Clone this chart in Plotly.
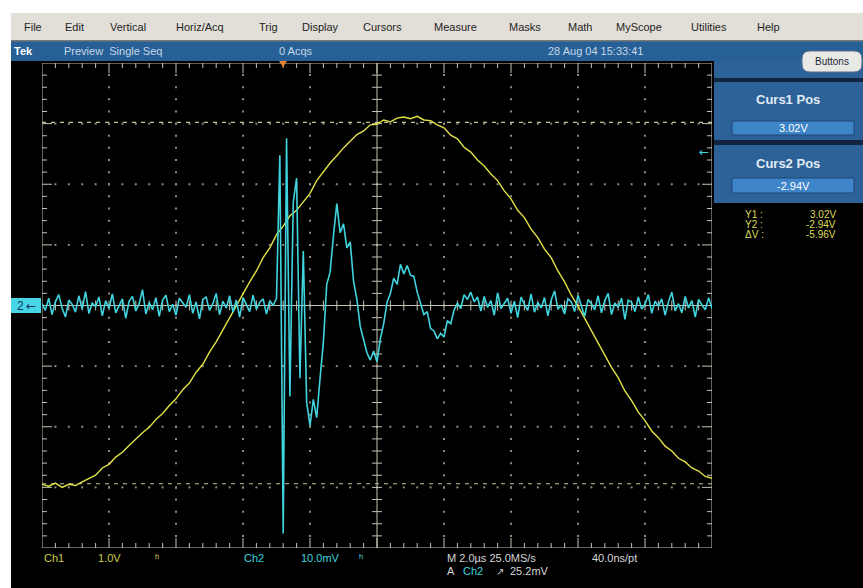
import plotly.graph_objects as go

# ---------------- data ----------------
# Ch1 (yellow), volts, sampled every 0.2 us over 20 us (10 div x 2 us)
ch1_dt = 0.2
ch1_v = [
    -2.95, -2.98, -2.93, -3.00, -2.95, -2.97, -2.91, -2.85, -2.80, -2.68,
    -2.62, -2.50, -2.42, -2.31, -2.20, -2.10, -2.01, -1.88, -1.78, -1.65,
    -1.54, -1.39, -1.28, -1.10, -0.97, -0.77, -0.60, -0.40, -0.22, -0.01,
    0.19, 0.39, 0.57, 0.79, 0.95, 1.17, 1.31, 1.48, 1.57, 1.71,
    1.85, 2.06, 2.20, 2.35, 2.47, 2.60, 2.71, 2.82, 2.88, 2.98,
    2.99, 3.06, 3.03, 3.09, 3.11, 3.08, 3.12, 3.06, 3.05, 2.98,
    2.93, 2.81, 2.75, 2.61, 2.53, 2.40, 2.30, 2.17, 2.06, 1.89,
    1.76, 1.57, 1.45, 1.26, 1.12, 0.93, 0.79, 0.57, 0.39, 0.17,
    -0.01, -0.21, -0.40, -0.62, -0.80, -1.02, -1.19, -1.41, -1.57, -1.76,
    -1.90, -2.07, -2.18, -2.32, -2.40, -2.52, -2.58, -2.68, -2.73, -2.82,
    -2.85,
]
ch1_t = [round(k * ch1_dt, 3) for k in range(len(ch1_v))]

# Ch2 (cyan), millivolts, sampled every 0.1 us
ch2_dt = 0.1
ch2_pre = [
    0.3, -0.8, 1.2, -1.5, 0.6, 1.8, -0.4, -1.9, 0.9, 0.2,
    -1.1, 1.6, -0.6, 2.3, -1.3, 0.4, -0.2, 1.4, -1.7, 0.8,
    -0.5, 1.9, -1.2, 0.1, 1.1, -2.1, 0.7, 1.5, -0.9, 0.3,
    2.6, -1.4, 0.5, -0.7, 1.3, -1.8, 0.9, 1.7, -1.0, 0.2,
    -1.6, 1.2, 0.4, -0.3, 1.8, -1.3, 0.6, -2.2, 1.0, 1.4,
    -0.8, 0.3, 2.0, -1.5, 0.7, -0.4, 1.6, -1.1, 0.9, -1.9,
    1.3, 0.2, -1.0, 1.7, -0.6, 0.5, 1.1, -1.4, 0.8, 0.0,
]
ch2_burst = [
    1.2, 24.8, -37.6, 27.6, -15.0, 17.0, 21.0, -12.0, 9.0, -16.0,
    -19.8, -15.5, -18.5, -12.0, -6.0, 3.5, 5.5, 11.5, 16.8, 12.0,
    13.5, 9.5, 10.5, 4.0, 1.0, -3.5, -5.5, -7.8, -9.0, -7.5,
    -9.3, -5.5, -3.0, 0.5, 2.0, 4.5, 3.5, 6.8, 5.2, 6.6,
    5.0, 4.8, 2.2, 0.5, -1.5, -1.0, -3.8, -4.2, -5.5, -4.6,
    -5.2, -2.5, -3.0, -0.8, 0.4, -0.5, 1.8, 1.0, 2.2, 0.6,
    1.4,
]
ch2_post = [
    -0.9, 1.5, -0.3, 0.8, -1.6, 2.1, -0.5, 0.4, 1.2, -1.3,
    0.7, -2.0, 1.4, 0.2, -0.8, 1.9, -1.1, 0.5, -0.4, 1.3,
    -1.7, 0.9, 2.4, -0.6, 0.1, -1.4, 1.1, 0.6, -1.0, 1.7,
    -0.2, -1.8, 1.0, 0.3, -0.7, 1.6, -1.2, 0.8, 2.0, -1.5,
    0.4, -0.3, 1.2, -2.3, 0.9, 0.5, -1.0, 1.4, -0.6, 0.2,
    1.8, -1.3, 0.7, -0.1, 1.1, -1.6, 0.6, 2.2, -0.9, 0.3,
    -1.2, 1.5, -0.4, 0.8, -1.9, 1.0, 0.1, -0.7, 1.3, -0.5,
]
ch2_mv = ch2_pre + ch2_burst + ch2_post
ch2_t = [round(i * ch2_dt, 3) for i in range(len(ch2_mv))]

# cursors (Ch1 volts)
curs1_v = 3.02
curs2_v = -2.94
trig_level_mv = 25.2

menu_items = ["File", "Edit", "Vertical", "Horiz/Acq", "Trig", "Display", "Cursors",
              "Measure", "Masks", "Math", "MyScope", "Utilities", "Help"]
menu_x = [22, 63, 108, 174, 257, 300, 361, 432, 507, 566, 614, 689, 755]

# ---------------- geometry ----------------
W, H = 863, 588
GX0, GX1, GY0, GY1 = 42, 712, 63, 548      # graticule pixel box
T_SPAN, V_HALF, MV_HALF = 20.0, 4.0, 40.0


def px(x):
    return x / W


def py(y):
    return 1 - y / H


YELLOW = "rgb(226,226,72)"
CYAN = "rgb(64,212,222)"
GRAT = "rgb(140,140,126)"
GRAT2 = "rgb(196,196,180)"
BAR_BLUE = "rgb(38,96,150)"
PANEL_BLUE = "rgb(44,98,152)"
BOX_BLUE = "rgb(62,132,200)"
DARK = "rgb(18,36,64)"

fig = go.Figure()

# graticule dots
dot_x, dot_y = [], []
for k in [1, 2, 3, 4, 6, 7, 8, 9]:
    for j in range(1, 40):
        dot_x.append(k * 2.0)
        dot_y.append(-4 + j * 0.2)
for v in [-3, -2, -1, 1, 2, 3]:
    for i in range(1, 50):
        dot_x.append(i * 0.4)
        dot_y.append(v)
fig.add_trace(go.Scatter(x=dot_x, y=dot_y, mode="markers",
                         marker=dict(size=2, color=GRAT, symbol="square", line_width=0),
                         hoverinfo="skip", showlegend=False))

# graticule frame, centre cross and minor ticks (line segments separated by gaps)
dxp = T_SPAN / (GX1 - GX0)
dyp = 2 * V_HALF / (GY1 - GY0)
seg_x, seg_y = [], []


def seg(x0, y0, x1, y1):
    seg_x.extend([x0, x1, None])
    seg_y.extend([y0, y1, None])


seg(0, -4, 20, -4)
seg(0, 4, 20, 4)
seg(0, -4, 0, 4)
seg(20, -4, 20, 4)
seg(0, 0, 20, 0)
seg(10, -4, 10, 4)
for i in range(1, 50):
    x = i * 0.4
    L = 10 if i % 5 == 0 else 5
    seg(x, -4, x, -4 + L * dyp)
    seg(x, 4, x, 4 - L * dyp)
    seg(x, -5 * dyp, x, 5 * dyp)
for j in range(1, 40):
    y = -4 + j * 0.2
    L = 10 if j % 5 == 0 else 5
    seg(0, y, L * dxp, y)
    seg(20, y, 20 - L * dxp, y)
    seg(10 - 5 * dxp, y, 10 + 5 * dxp, y)
fig.add_trace(go.Scatter(x=seg_x, y=seg_y, mode="lines", connectgaps=False,
                         line=dict(color=GRAT2, width=1),
                         hoverinfo="skip", showlegend=False))

# cursors
for cv in (curs1_v, curs2_v):
    fig.add_trace(go.Scatter(x=[0, T_SPAN], y=[cv, cv], mode="lines",
                             line=dict(color="rgb(195,195,150)", width=1.2, dash="4px,5px"),
                             hoverinfo="skip", showlegend=False))

# traces
fig.add_trace(go.Scatter(x=ch1_t, y=ch1_v, mode="lines",
                         line=dict(color=YELLOW, width=1.4), name="Ch1",
                         showlegend=False))
fig.add_trace(go.Scatter(x=ch2_t, y=ch2_mv, mode="lines", yaxis="y2",
                         line=dict(color=CYAN, width=1.6), name="Ch2",
                         showlegend=False))

shapes = []


def rect(x0, y0, x1, y1, color, line=None):
    d = dict(type="rect", xref="paper", yref="paper",
             x0=px(x0), x1=px(x1), y0=py(y1), y1=py(y0),
             fillcolor=color, layer="above")
    d["line"] = line if line else dict(width=0)
    return d


shapes += [
    rect(0, 0, W, 13, "white"),
    rect(0, 0, 11, H, "white"),
    rect(11, 13, W, 41, "rgb(226,223,216)"),
    rect(11, 41, W, 61, BAR_BLUE),
    rect(11, 40, W, 41.5, "rgb(120,120,120)"),
    # right panel
    rect(714, 61, W, 78, PANEL_BLUE),
    rect(714, 78, W, 82, DARK),
    rect(714, 82, W, 140, PANEL_BLUE),
    rect(714, 140, W, 145, DARK),
    rect(714, 145, W, 203, PANEL_BLUE),
    rect(732, 121, 854, 135, BOX_BLUE, dict(color="rgb(30,70,120)", width=1)),
    rect(732, 178, 854, 193, BOX_BLUE, dict(color="rgb(30,70,120)", width=1)),
    # ch2 ground marker
    rect(11, 298, 41, 313, "rgb(70,214,230)"),
]
# Buttons button (rounded)
bx0, bx1, by0, by1, r = 802, 862, 51, 72, 8
shapes.append(dict(
    type="path", xref="paper", yref="paper", layer="above",
    path=(f"M{px(bx0 + r)},{py(by0)} L{px(bx1 - r)},{py(by0)} "
          f"Q{px(bx1)},{py(by0)} {px(bx1)},{py(by0 + r)} L{px(bx1)},{py(by1 - r)} "
          f"Q{px(bx1)},{py(by1)} {px(bx1 - r)},{py(by1)} L{px(bx0 + r)},{py(by1)} "
          f"Q{px(bx0)},{py(by1)} {px(bx0)},{py(by1 - r)} L{px(bx0)},{py(by0 + r)} "
          f"Q{px(bx0)},{py(by0)} {px(bx0 + r)},{py(by0)} Z"),
    fillcolor="rgb(232,232,228)", line=dict(color="rgb(90,110,140)", width=1)))
# trigger position marker (orange)
tx = 283
shapes.append(dict(type="path", xref="paper", yref="paper", layer="above",
                   path=f"M{px(tx - 4)},{py(61)} L{px(tx + 4)},{py(61)} L{px(tx)},{py(67)} Z",
                   fillcolor="rgb(235,130,50)", line=dict(width=0)))

ann = []


def text(x, y, s, color, size=11, anchor="left", bold=False, family="Liberation Sans"):
    if bold:
        s = f"<b>{s}</b>"
    ann.append(dict(x=px(x), y=py(y), xref="paper", yref="paper", text=s,
                    showarrow=False, xanchor=anchor, yanchor="middle",
                    font=dict(color=color, size=size, family=family)))


for s, x in zip(menu_items, menu_x):
    text(x, 27, s, "rgb(30,30,30)", 11)

text(12, 51, "Tek", "white", 11, bold=True)
text(62, 51, "Preview&nbsp;&nbsp;Single Seq", "rgb(200,215,230)", 11)
text(277, 51, "0 Acqs", "rgb(200,215,230)", 11)
text(546, 51, "28 Aug 04 15:33:41", "rgb(200,215,230)", 11)
text(832, 61.5, "Buttons", "rgb(30,40,60)", 10, anchor="center")

text(788, 100, "Curs1 Pos", "rgb(225,235,245)", 13, anchor="center", bold=True)
text(793, 128, f"{curs1_v:.2f}V", "white", 11, anchor="center")
text(788, 163, "Curs2 Pos", "rgb(225,235,245)", 13, anchor="center", bold=True)
text(793, 185.5, f"{curs2_v:.2f}V", "white", 11, anchor="center")

text(743, 214, "Y1 :", "rgb(220,220,90)", 10)
text(743, 224, "Y2 :", "rgb(220,220,90)", 10)
text(743, 234, "ΔV :", "rgb(220,220,90)", 10)
text(838, 214, f"{curs1_v:.2f}V", "rgb(220,220,90)", 10, anchor="right")
text(838, 224, f"{curs2_v:.2f}V", "rgb(220,220,90)", 10, anchor="right")
text(838, 234, f"{curs2_v - curs1_v:.2f}V", "rgb(220,220,90)", 10, anchor="right")

text(15, 305.5, "2", "rgb(20,50,90)", 12)
text(24, 305.5, "←", "rgb(20,50,90)", 12, family="DejaVu Sans")
text(697, 305 - trig_level_mv * (GY1 - GY0) / (2 * MV_HALF), "←", CYAN, 12,
     family="DejaVu Sans")

text(42, 558, "Ch1", "rgb(205,205,80)", 11)
text(96, 558, "1.0V", "rgb(205,205,80)", 11)
text(153, 558, "ʰ", "rgb(205,205,80)", 11)
text(242, 558, "Ch2", CYAN, 11)
text(299, 558, "10.0mV", CYAN, 11)
text(357, 558, "ʰ", CYAN, 11)
text(445, 558, "M 2.0µs 25.0MS/s", "rgb(215,215,215)", 11)
text(590, 558, "40.0ns/pt", "rgb(215,215,215)", 11)
text(445, 571, "A", "rgb(215,215,215)", 11)
text(461, 571, "Ch2", CYAN, 11)
text(494, 571, "↗", "rgb(215,215,215)", 10, family="DejaVu Sans")
text(508, 571, f"{trig_level_mv:.1f}mV", "rgb(215,215,215)", 11)

fig.update_layout(
    width=W, height=H, margin=dict(l=0, r=0, t=0, b=0),
    paper_bgcolor="black", plot_bgcolor="rgba(0,0,0,0)",
    showlegend=False, shapes=shapes, annotations=ann,
    xaxis=dict(range=[0, T_SPAN], domain=[px(GX0), px(GX1)], visible=False, fixedrange=True),
    yaxis=dict(range=[-V_HALF, V_HALF], domain=[py(GY1), py(GY0)], visible=False, fixedrange=True),
    yaxis2=dict(range=[-MV_HALF, MV_HALF], overlaying="y", visible=False, fixedrange=True),
)

fig.write_html("out.html")
